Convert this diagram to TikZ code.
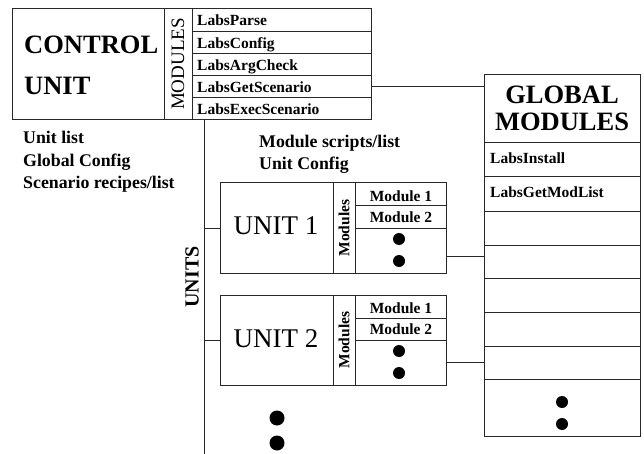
\documentclass[tikz,border=0pt]{standalone}
\usepackage{fontspec}
\setmainfont{Liberation Serif}
\definecolor{linec}{RGB}{40,40,40}
\begin{document}
\begin{tikzpicture}[x=1pt,y=-1pt,
  cell/.style={draw=linec, line width=1pt, inner sep=0pt, outer sep=0pt, anchor=north west},
  conn/.style={draw=linec, line width=1pt},
  dot/.style={circle, fill=black, inner sep=0pt, minimum size=12pt},
  bigdot/.style={circle, fill=black, inner sep=0pt, minimum size=15pt},
  ctext/.style={font=\bfseries\fontsize{26.5}{28}\selectfont, inner sep=0pt, anchor=base west},
  rowtext/.style={font=\bfseries\fontsize{15.5}{17}\selectfont, inner sep=0pt, anchor=base west},
  sidetext/.style={font=\bfseries\fontsize{17.8}{19}\selectfont, inner sep=0pt, anchor=base west},
  unittext/.style={font=\fontsize{27}{29}\selectfont, inner sep=0pt, anchor=base},
  modtext/.style={font=\bfseries\fontsize{15.5}{17}\selectfont, inner sep=0pt, anchor=base},
  vmod/.style={font=\bfseries\fontsize{15.5}{17}\selectfont, inner sep=0pt, rotate=90},
  gtext/.style={font=\bfseries\fontsize{26.5}{28}\selectfont, inner sep=0pt, anchor=base}
]
\useasboundingbox (0,0) rectangle (644,454);

% ---------------- control unit ----------------
\node[cell, minimum width=152pt, minimum height=111pt] (cu) at (12,9) {};
\node[cell, minimum width=28pt, minimum height=111pt] (cumod) at (164,9) {};
\node[cell, minimum width=179pt, minimum height=22.2pt] (r1) at (192,9) {};
\node[cell, minimum width=179pt, minimum height=22.2pt] (r2) at (192,31.2) {};
\node[cell, minimum width=179pt, minimum height=22.2pt] (r3) at (192,53.4) {};
\node[cell, minimum width=179pt, minimum height=22.2pt] (r4) at (192,75.6) {};
\node[cell, minimum width=179pt, minimum height=22.2pt] (r5) at (192,97.8) {};

\node[ctext] (tcontrol) at (24,54) {CONTROL};
\node[ctext] (tunit) at (24,95) {UNIT};
\node[font=\fontsize{19}{21}\selectfont, inner sep=0pt, rotate=90] (tmodules) at (178,64) {MODULES};

\node[rowtext] (t1) at (197,26) {LabsParse};
\node[rowtext] (t2) at (197,48.2) {LabsConfig};
\node[rowtext] (t3) at (197,70.4) {LabsArgCheck};
\node[rowtext] (t4) at (197,92.6) {LabsGetScenario};
\node[rowtext] (t5) at (197,114.8) {LabsExecScenario};

\node[sidetext] (s1) at (23,144) {Unit list};
\node[sidetext] (s2) at (23,166.5) {Global Config};
\node[sidetext] (s3) at (23,189) {Scenario recipes/list};

\node[sidetext] (m1) at (259,148) {Module scripts/list};
\node[sidetext] (m2) at (259,170) {Unit Config};

% ---------------- units bus ----------------
\coordinate (vtop) at (204,120);
\coordinate (vbot) at (204,454);
\draw[conn] (vtop) -- (vbot);
\node[font=\bfseries\fontsize{20}{22}\selectfont, inner sep=0pt, rotate=90] (tunits) at (192,277) {UNITS};

% ---------------- unit 1 ----------------
\node[cell, minimum width=113pt, minimum height=90pt] (u1) at (220,183) {};
\node[cell, minimum width=22pt, minimum height=90pt] (u1mod) at (333,183) {};
\node[cell, minimum width=91pt, minimum height=23pt] (u1a) at (355,183) {};
\node[cell, minimum width=91pt, minimum height=22pt] (u1b) at (355,206) {};
\node[cell, minimum width=91pt, minimum height=45pt] (u1c) at (355,228) {};
\node[unittext] (tu1) at (276,234) {UNIT 1};
\node[vmod] (tu1mod) at (344,228) {Modules};
\node[modtext] (tu1a) at (401,201) {Module 1};
\node[modtext] (tu1b) at (401,222.5) {Module 2};
\node[dot] (u1d1) at (399,239) {};
\node[dot] (u1d2) at (399,261) {};

% ---------------- unit 2 ----------------
\node[cell, minimum width=113pt, minimum height=90pt] (u2) at (220,295) {};
\node[cell, minimum width=22pt, minimum height=90pt] (u2mod) at (333,295) {};
\node[cell, minimum width=91pt, minimum height=23pt] (u2a) at (355,295) {};
\node[cell, minimum width=91pt, minimum height=22pt] (u2b) at (355,318) {};
\node[cell, minimum width=91pt, minimum height=45pt] (u2c) at (355,340) {};
\node[unittext] (tu2) at (276,347) {UNIT 2};
\node[vmod] (tu2mod) at (344,340) {Modules};
\node[modtext] (tu2a) at (401,313) {Module 1};
\node[modtext] (tu2b) at (401,334.5) {Module 2};
\node[dot] (u2d1) at (399,351) {};
\node[dot] (u2d2) at (399,373) {};

% more units
\node[bigdot] (md1) at (277,418) {};
\node[bigdot] (md2) at (277,443) {};

% ---------------- global modules ----------------
\node[cell, minimum width=156pt, minimum height=68pt] (gm) at (484,75) {};
\node[cell, minimum width=156pt, minimum height=34pt] (g1) at (484,143) {};
\node[cell, minimum width=156pt, minimum height=34pt] (g2) at (484,177) {};
\node[cell, minimum width=156pt, minimum height=34pt] (g3) at (484,211) {};
\node[cell, minimum width=156pt, minimum height=33pt] (g4) at (484,245) {};
\node[cell, minimum width=156pt, minimum height=34pt] (g5) at (484,278) {};
\node[cell, minimum width=156pt, minimum height=34pt] (g6) at (484,312) {};
\node[cell, minimum width=156pt, minimum height=33pt] (g7) at (484,346) {};
\node[cell, minimum width=156pt, minimum height=57pt] (g8) at (484,379) {};
\node[gtext] (tg1) at (562,104) {GLOBAL};
\node[gtext] (tg2) at (562,131) {MODULES};
\node[rowtext] (tgi) at (490,164) {LabsInstall};
\node[rowtext] (tgl) at (490,198) {LabsGetModList};
\node[dot] (gd1) at (562,402) {};
\node[dot] (gd2) at (562,424) {};

% ---------------- connectors ----------------
\draw[conn] (r4.east) -- (r4.east -| gm.west);
\draw[conn] (u1.west -| vtop) -- (u1.west);
\draw[conn] (u2.west -| vtop) -- (u2.west);
\coordinate (u1r) at (446,256);
\coordinate (u2r) at (446,362);
\draw[conn] (u1r) -- (u1r -| gm.west);
\draw[conn] (u2r) -- (u2r -| gm.west);
\end{tikzpicture}
\end{document}
